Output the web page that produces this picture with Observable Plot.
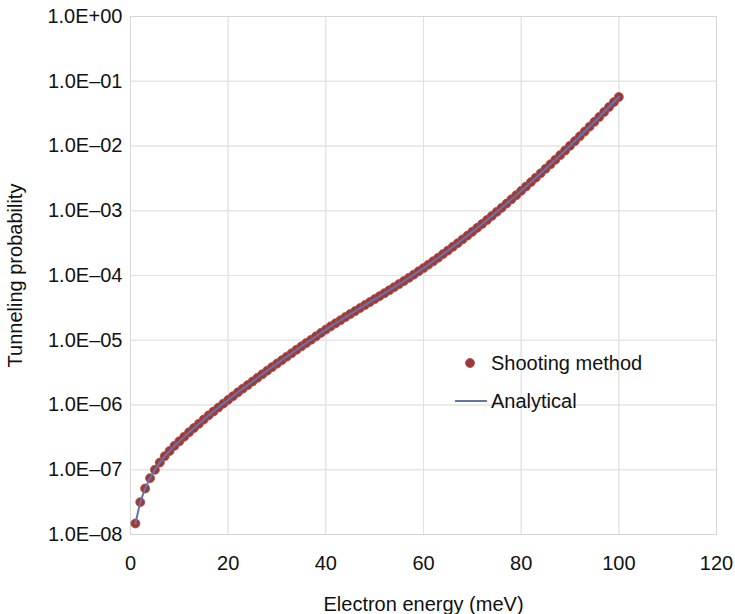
<!DOCTYPE html>
<html>
<head>
<meta charset="utf-8">
<script src="https://cdn.jsdelivr.net/npm/d3@7"></script>
<script src="https://cdn.jsdelivr.net/npm/@observablehq/plot@0.6"></script>
<style>
  body { margin: 0; background: #fff; }
  #chart svg { font-family: "Liberation Sans", Arial, sans-serif; }
</style>
</head>
<body>
<div id="chart"></div>
<script>
// Electron energy (meV)
const energy = [
  1,2,3,4,5,6,7,8,9,10,11,12,13,14,15,16,17,18,19,20,
  21,22,23,24,25,26,27,28,29,30,31,32,33,34,35,36,37,38,39,40,
  41,42,43,44,45,46,47,48,49,50,51,52,53,54,55,56,57,58,59,60,
  61,62,63,64,65,66,67,68,69,70,71,72,73,74,75,76,77,78,79,80,
  81,82,83,84,85,86,87,88,89,90,91,92,93,94,95,96,97,98,99,100
];
// Tunneling probability, shooting method (points)
const shooting = [
  1.48e-8,3.16e-8,5.13e-8,7.41e-8,1.00e-7,1.29e-7,1.62e-7,1.95e-7,2.34e-7,2.75e-7,
  3.24e-7,3.80e-7,4.42e-7,5.13e-7,5.96e-7,6.92e-7,7.94e-7,9.12e-7,1.05e-6,1.20e-6,
  1.37e-6,1.57e-6,1.79e-6,2.03e-6,2.31e-6,2.63e-6,2.99e-6,3.39e-6,3.85e-6,4.36e-6,
  4.93e-6,5.58e-6,6.31e-6,7.13e-6,8.05e-6,9.08e-6,1.02e-5,1.15e-5,1.30e-5,1.46e-5,
  1.64e-5,1.83e-5,2.04e-5,2.28e-5,2.54e-5,2.82e-5,3.14e-5,3.49e-5,3.88e-5,4.32e-5,
  4.80e-5,5.33e-5,5.93e-5,6.61e-5,7.36e-5,8.22e-5,9.20e-5,1.03e-4,1.16e-4,1.30e-4,
  1.47e-4,1.66e-4,1.88e-4,2.14e-4,2.43e-4,2.77e-4,3.16e-4,3.61e-4,4.13e-4,4.74e-4,
  5.44e-4,6.25e-4,7.21e-4,8.32e-4,9.62e-4,1.11e-3,1.29e-3,1.50e-3,1.74e-3,2.03e-3,
  2.37e-3,2.77e-3,3.24e-3,3.79e-3,4.45e-3,5.22e-3,6.14e-3,7.23e-3,8.53e-3,1.01e-2,
  1.19e-2,1.41e-2,1.67e-2,1.99e-2,2.36e-2,2.81e-2,3.35e-2,4.00e-2,4.78e-2,5.71e-2
];
// Analytical curve (overlaps the shooting-method points)
const analytical = shooting.slice();

const xTicks = [0, 20, 40, 60, 80, 100, 120];
const yTicks = [1e-8, 1e-7, 1e-6, 1e-5, 1e-4, 1e-3, 1e-2, 1e-1, 1];
const seriesNames = ["Shooting method", "Analytical"];

const ptData = energy.map((e, i) => ({e, p: shooting[i]}));
const lnData = energy.map((e, i) => ({e, p: analytical[i]}));

const fmtE = d => {
  const ex = Math.round(Math.log10(d));
  const s = ex >= 0 ? "+" : "\u2013";
  return "1.0E" + s + String(Math.abs(ex)).padStart(2, "0");
};

const ptColor = "#9c3a3a";
const lnColor = "#6674ad";

const plot = Plot.plot({
  width: 735,
  height: 614,
  marginLeft: 130,
  marginRight: 19,
  marginTop: 16,
  marginBottom: 80,
  style: {fontFamily: "Liberation Sans, Arial, sans-serif", fontSize: "20px", color: "#111"},
  x: {domain: [0, 120], ticks: xTicks, grid: true, tickSize: 0, tickPadding: 21,
      label: "Electron energy (meV)", labelAnchor: "center", labelOffset: 76, labelArrow: false},
  y: {type: "log", domain: [1e-8, 1], ticks: yTicks, tickFormat: fmtE, grid: true,
      tickSize: 0, tickPadding: 8,
      label: "Tunneling probability", labelAnchor: "center", labelOffset: 123, labelArrow: false},
  marks: [
    Plot.gridX(xTicks, {stroke: "#e2e2e2", strokeOpacity: 1}),
    Plot.gridY(yTicks, {stroke: "#e2e2e2", strokeOpacity: 1}),
    Plot.frame({stroke: "#d6d6d6"}),
    Plot.dot(ptData, {x: "e", y: "p", r: 4.5, fill: ptColor, stroke: "#b04a44", strokeWidth: 0.8}),
    Plot.line(lnData, {x: "e", y: "p", stroke: lnColor, strokeWidth: 2})
  ]
});

document.getElementById("chart").appendChild(plot);

// Legend inside the plot area
const svg = d3.select(plot);
const lg = svg.append("g").attr("font-size", 20).attr("fill", "#111").attr("text-anchor", "start");
lg.append("circle").attr("cx", 470).attr("cy", 363).attr("r", 4.5)
  .attr("fill", ptColor).attr("stroke", "#b04a44").attr("stroke-width", 0.8);
lg.append("text").attr("x", 491).attr("y", 363).attr("dy", "0.35em").text(seriesNames[0]);
lg.append("line").attr("x1", 455).attr("x2", 487).attr("y1", 401).attr("y2", 401)
  .attr("stroke", lnColor).attr("stroke-width", 2);
lg.append("text").attr("x", 491).attr("y", 401).attr("dy", "0.35em").text(seriesNames[1]);
</script>
</body>
</html>
